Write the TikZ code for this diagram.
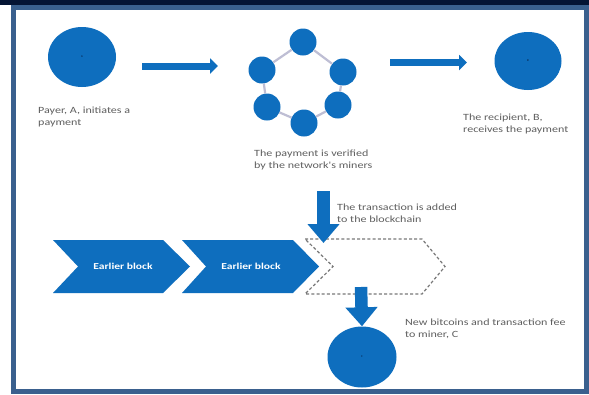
\documentclass[tikz,border=0pt]{standalone}
\usepackage{fontspec}
\setmainfont{Carlito}
\newfontfamily\widefont[FakeStretch=1.27]{Carlito}
\usetikzlibrary{arrows.meta,shapes.geometric}
\definecolor{navy}{RGB}{4,20,52}
\definecolor{framec}{RGB}{58,96,142}
\definecolor{blu}{RGB}{14,110,190}
\definecolor{txt}{RGB}{95,95,95}
\definecolor{ringc}{RGB}{190,190,212}
\definecolor{dashc}{RGB}{120,120,120}
\tikzset{
  bigdot/.style={ellipse, fill=blu, inner sep=0pt},
  ringdot/.style={circle, fill=blu, minimum size=27pt, inner sep=0pt},
  lbl/.style={text=txt, font=\widefont\fontsize{9.5}{12.5}\selectfont, align=left, inner sep=0pt, anchor=base west},
  harrow/.style={draw=blu, line width=7pt, -{Triangle[width=15pt,length=8pt]}},
  varrow/.style={draw=blu, line width=12.5pt, -{Triangle[width=31pt,length=19pt]}},
  ringline/.style={draw=ringc, line width=2.2pt},
  chev/.style={fill=blu},
  chevtxt/.style={text=white, font=\widefont\fontsize{9.1}{10}\selectfont\bfseries, inner sep=0pt},
  dashchev/.style={draw=dashc, line width=1.2pt, dash pattern=on 3pt off 2.2pt},
  tinyl/.style={text=navy, font=\fontsize{3}{3}\selectfont, inner sep=0pt}
}
\begin{document}
\begin{tikzpicture}[x=1pt,y=-1pt]
\useasboundingbox (0,0) rectangle (589,394);
\fill[white] (0,0) rectangle (589,394);
\fill[navy] (0,0) rectangle (589,4.5);
\draw[framec, line width=5pt] (13,7) rectangle (586.5,391.5);

% payer
\node[bigdot, minimum width=68pt, minimum height=60pt] (A) at (82,57) {};
\node[tinyl] at (A) {A};
\node[lbl] (Atxt) at (38,125.5) {Payer, A, initiates a\\payment};

% ring of miners
\node[ringdot] (m1) at (303,42) {};
\node[ringdot] (m2) at (343,72) {};
\node[ringdot] (m3) at (338,105) {};
\node[ringdot] (m4) at (304,123) {};
\node[ringdot] (m5) at (267,107) {};
\node[ringdot] (m6) at (262,70) {};
\draw[ringline] (m1) -- (m2);
\draw[ringline] (m2) -- (m3);
\draw[ringline] (m3) -- (m4);
\draw[ringline] (m4) -- (m5);
\draw[ringline] (m5) -- (m6);
\draw[ringline] (m6) -- (m1);
\node[lbl] (Mtxt) at (254,168.5) {The payment is verified\\by the network's miners};

% recipient
\node[bigdot, minimum width=67pt, minimum height=58pt] (B) at (528,61) {};
\node[tinyl] at (B) {B};
\node[lbl] (Btxt) at (463,132.5) {The recipient, B,\\receives the payment};

% horizontal arrows
\coordinate (a1s) at (142,66);
\coordinate (a1e) at (218,66);
\coordinate (a2s) at (390,62.5);
\coordinate (a2e) at (467,62.5);
\draw[harrow] (a1s) -- (a1e);
\draw[harrow] (a2s) -- (a2e);

% chevrons
\fill[chev] (53,240) -- (163,240) -- (190,266.5) -- (163,293) -- (53,293) -- (78,266.5) -- cycle;
\node[chevtxt] (c1) at (123,266.5) {Earlier block};
\fill[chev] (182,240) -- (293,240) -- (319,266.5) -- (293,293) -- (182,293) -- (206,266.5) -- cycle;
\node[chevtxt] (c2) at (251,266.5) {Earlier block};
\draw[dashchev] (305,239) -- (422,239) -- (445,266.5) -- (422,294) -- (305,294) -- (333,266.5) -- cycle;

% down arrow to chain
\coordinate (d1s) at (323.5,191);
\coordinate (d1e) at (323.5,243);
\draw[varrow] (d1s) -- (d1e);
\node[lbl] (Ttxt) at (337,222.5) {The transaction is added\\to the blockchain};

% miner C
\node[bigdot, minimum width=69pt, minimum height=61pt] (C) at (362,357) {};
\node[tinyl] at (C) {C};
\coordinate (d2s) at (361,287);
\draw[varrow] (d2s) -- (C.north);
\node[lbl] (Ctxt) at (405,337.5) {New bitcoins and transaction fee\\to miner, C};
\end{tikzpicture}
\end{document}
